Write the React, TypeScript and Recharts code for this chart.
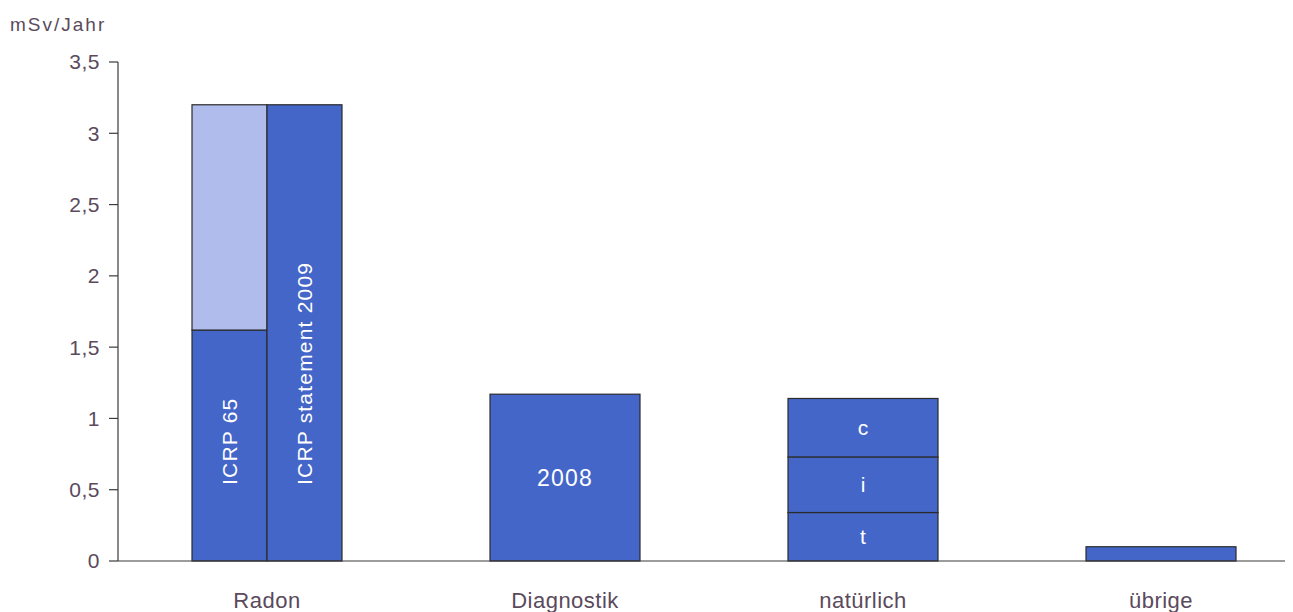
import React from 'react';
import { BarChart, Bar, XAxis, YAxis } from 'recharts';

// Strahlenexposition in mSv/Jahr
const categories = ['Radon', 'Diagnostik', 'natürlich', 'übrige'];
const baseValues = [1.62, 1.17, 0.34, 0.1]; // ICRP 65 / 2008 / t / übrige
const middleValues = [1.58, null, 0.39, null]; // Radon-Zuschlag / i
const topValues = [null, null, 0.41, null]; // c
const statementValues = [3.2, null, null, null]; // ICRP statement 2009
const baseLabels = ['ICRP 65', '2008', 't', ''];
const middleLabels = ['', '', 'i', ''];
const topLabels = ['', '', 'c', ''];
const statementLabels = ['ICRP statement 2009', '', '', ''];
const yTicks = [0, 0.5, 1, 1.5, 2, 2.5, 3, 3.5];

const data = categories.map((name, i) => ({
  name,
  idx: i,
  base: baseValues[i],
  middle: middleValues[i],
  top: topValues[i],
  stmt: statementValues[i],
}));

const FONT = '"Liberation Sans", Arial, Helvetica, sans-serif';
const TEXT = '#5a4a5c';
const DARK = '#4466c8';
const LIGHT = '#afbcec';
// fill per category for the middle segment (Radon-Zuschlag is light)
const middleFills = [LIGHT, DARK, DARK, DARK];

function makeShape(fills: string[], labels: string[]) {
  return (props: any) => {
    const { x, y, width, height, payload } = props;
    if (height == null || height <= 0) return <g />;
    const wide = payload.stmt == null;
    const w = wide ? width * 2 : width;
    const label = labels[payload.idx];
    const fill = fills[payload.idx];
    const vertical = label && label.startsWith('ICRP');
    const cx = x + w / 2;
    const by = y + height - 76;
    return (
      <g>
        <rect x={x} y={y} width={w} height={height} fill={fill} stroke="#2b2b2b" strokeWidth={1.2} />
        {label && vertical && (
          <text
            x={cx}
            y={by}
            transform={`rotate(-90 ${cx} ${by})`}
            textAnchor="start"
            dominantBaseline="central"
            fill="#ffffff"
            fontSize={21}
            letterSpacing={1.2}
            fontFamily={FONT}
          >
            {label}
          </text>
        )}
        {label && !vertical && (
          <text
            x={cx}
            y={y + height / 2}
            textAnchor="middle"
            dominantBaseline="central"
            fill="#ffffff"
            fontSize={label.length > 1 ? 23 : 21}
            letterSpacing={label.length > 1 ? 1.2 : 0}
            fontFamily={FONT}
          >
            {label}
          </text>
        )}
      </g>
    );
  };
}

const darkAll = [DARK, DARK, DARK, DARK];

export default function App() {
  return (
    <div style={{ position: 'relative', width: 1277, height: 604, overflow: 'hidden', fontFamily: FONT }}>
      <div style={{ position: 'absolute', left: 2, top: 6, fontSize: 19, letterSpacing: 2, color: TEXT }}>
        mSv/Jahr
      </div>
      <BarChart
        width={1320}
        height={604}
        data={data}
        margin={{ top: 54, right: 18, bottom: 0, left: 50 }}
        barSize={75}
        barGap={0}
      >
        <XAxis
          dataKey="name"
          height={51}
          tickLine={false}
          tickSize={0}
          tickMargin={31}
          axisLine={{ stroke: '#3a3a3a', strokeWidth: 1.2 }}
          tick={{ fill: TEXT, fontSize: 22, letterSpacing: 0.5, fontFamily: FONT }}
          interval={0}
        />
        <YAxis
          width={60}
          domain={[0, 3.5]}
          ticks={yTicks}
          interval={0}
          tickSize={9}
          tickMargin={9}
          tickFormatter={(v: number) => String(v).replace('.', ',')}
          axisLine={{ stroke: '#3a3a3a', strokeWidth: 1.2 }}
          tickLine={{ stroke: '#3a3a3a', strokeWidth: 1.2 }}
          tick={{ fill: TEXT, fontSize: 21, letterSpacing: 0.5, fontFamily: FONT }}
        />
        <Bar dataKey="base" stackId="a" isAnimationActive={false} shape={makeShape(darkAll, baseLabels)} />
        <Bar dataKey="middle" stackId="a" isAnimationActive={false} shape={makeShape(middleFills, middleLabels)} />
        <Bar dataKey="top" stackId="a" isAnimationActive={false} shape={makeShape(darkAll, topLabels)} />
        <Bar dataKey="stmt" stackId="b" isAnimationActive={false} shape={makeShape(darkAll, statementLabels)} />
      </BarChart>
    </div>
  );
}
